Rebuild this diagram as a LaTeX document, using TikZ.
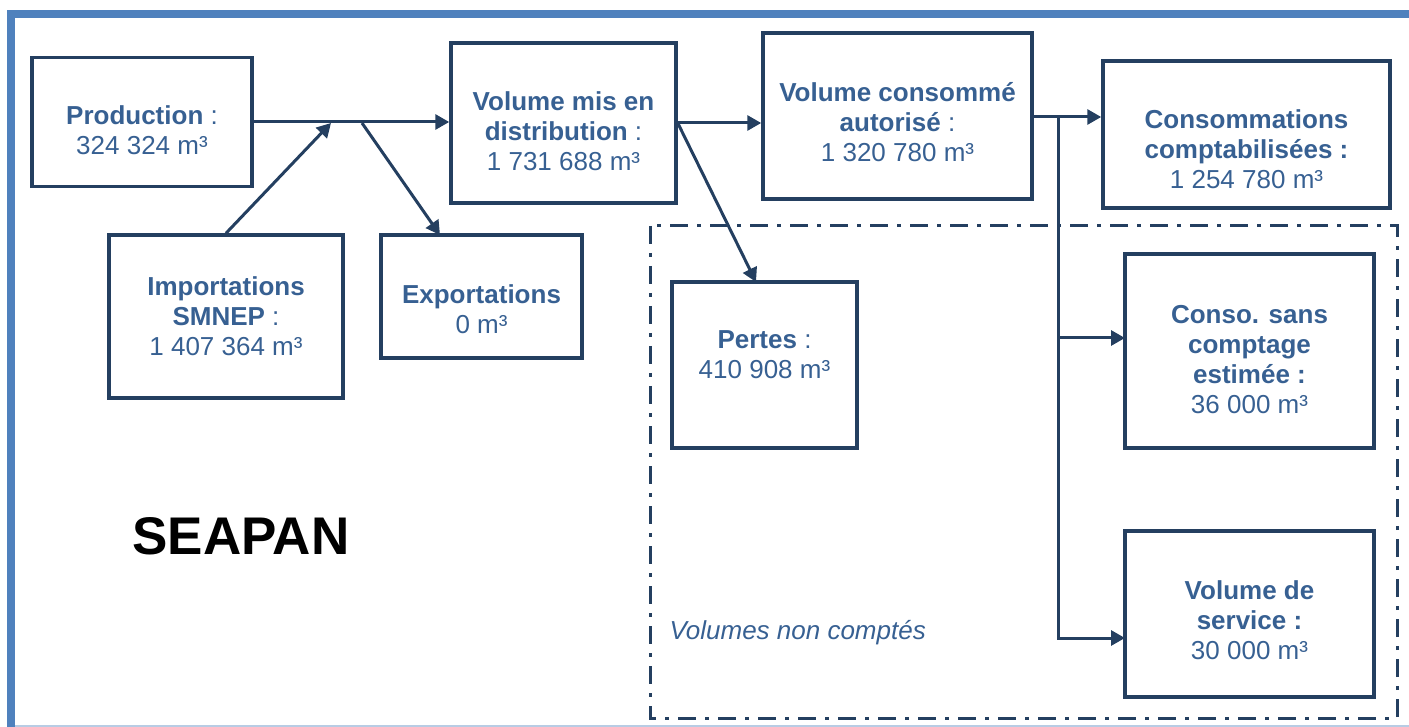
\documentclass[tikz,border=0pt]{standalone}
\usepackage{fontspec}
\setmainfont{Liberation Sans}
\usetikzlibrary{arrows.meta,positioning}

\definecolor{navy}{HTML}{243F60}
\definecolor{txtblue}{HTML}{376092}
\definecolor{frameblue}{HTML}{4F81BD}
\definecolor{paleblue}{HTML}{B8CCE4}

% invisible struts to push the text down or up inside its box
\newcommand{\padtop}[1]{\rule{0pt}{#1}}
\newcommand{\padbot}[1]{\rule[-#1]{0pt}{0pt}}

\begin{document}
\begin{tikzpicture}[
    x=1pt, y=-1pt,
    every node/.style={align=center, text=txtblue, font=\fontsize{26}{30}\selectfont},
    box/.style 2 args={draw=navy, line width=3.5pt, minimum width=#1, minimum height=#2, inner sep=0pt},
    arrow/.style={-{Triangle[length=14pt,width=15pt]}, line width=3pt, draw=navy},
    frame/.style={draw=frameblue, line width=8pt}
]
\useasboundingbox (0,0) rectangle (1409,727);

% page frame
\draw[frame] (11,727) -- (11,14) -- (1409,14);
\draw[paleblue, line width=1.5pt] (15,726) -- (1409,726);

% unmetered volumes area
\draw[navy, line width=3pt, dash pattern=on 18pt off 9pt on 4pt off 9pt] (650,226) rectangle (1397,718);

\node[box={220pt}{129pt}] (prod) at (142,122) {\padtop{36pt}\textbf{Production} :\\324 324 m³};
\node[box={234pt}{163pt}] (imp) at (226,316.5) {\textbf{Importations}\\\textbf{SMNEP} :\\1 407 364 m³};
\node[box={201pt}{123pt}] (exp) at (481.5,296.5) {\padtop{45pt}\textbf{Exportations}\\0 m³};
\node[box={225pt}{160pt}] (volmis) at (563.5,123) {\padtop{36pt}\textbf{Volume mis en}\\\textbf{distribution} :\\1 731 688 m³};
\node[box={269pt}{166pt}] (volconso) at (897.5,116) {\padtop{31pt}\textbf{Volume consommé}\\\textbf{autorisé} :\\1 320 780 m³};
\node[box={287pt}{147pt}] (comptab) at (1246.5,134.5) {\padtop{49pt}\textbf{Consommations}\\\textbf{comptabilisées :}\\1 254 780 m³};
\node[box={185pt}{166pt}] (pertes) at (764.5,365) {\textbf{Pertes} :\\410 908 m³\padbot{20pt}};
\node[box={249pt}{194pt}] (sanscpt) at (1249.5,351) {\padtop{35pt}\textbf{Conso. sans}\\\textbf{comptage}\\\textbf{estimée :}\\36 000 m³};
\node[box={249pt}{166pt}] (service) at (1249.5,614) {\padtop{32pt}\textbf{Volume de}\\\textbf{service :}\\30 000 m³};

\node[text=black, font=\fontsize{53}{60}\selectfont\bfseries] (seapan) at (241,536) {SEAPAN};
\node[anchor=west, font=\fontsize{26}{30}\selectfont\itshape] (noncpt) at (666,633) {Volumes non comptés};

\coordinate (jin) at (331,123);
\coordinate (jout) at (362,123);
\coordinate (expin) at (440,235);
\coordinate (pertesin) at (756,282);
\coordinate (split) at (1058,117);
\coordinate (sansin) at (1125,338);
\coordinate (servin) at (1125,638);

\draw[arrow] (prod.east) -- (volmis.west |- prod.east);
\draw[arrow] (imp.north) -- (jin);
\draw[arrow] (jout) -- (expin);
\draw[arrow] (volmis.east) -- (volconso.west |- volmis.east);
\draw[arrow] (volmis.east) -- (pertesin);
\draw[arrow] (volconso.east |- split) -- (comptab.west |- split);
\draw[arrow] (split) |- (servin);
\draw[arrow] (split |- sansin) -- (sansin);
\end{tikzpicture}
\end{document}
